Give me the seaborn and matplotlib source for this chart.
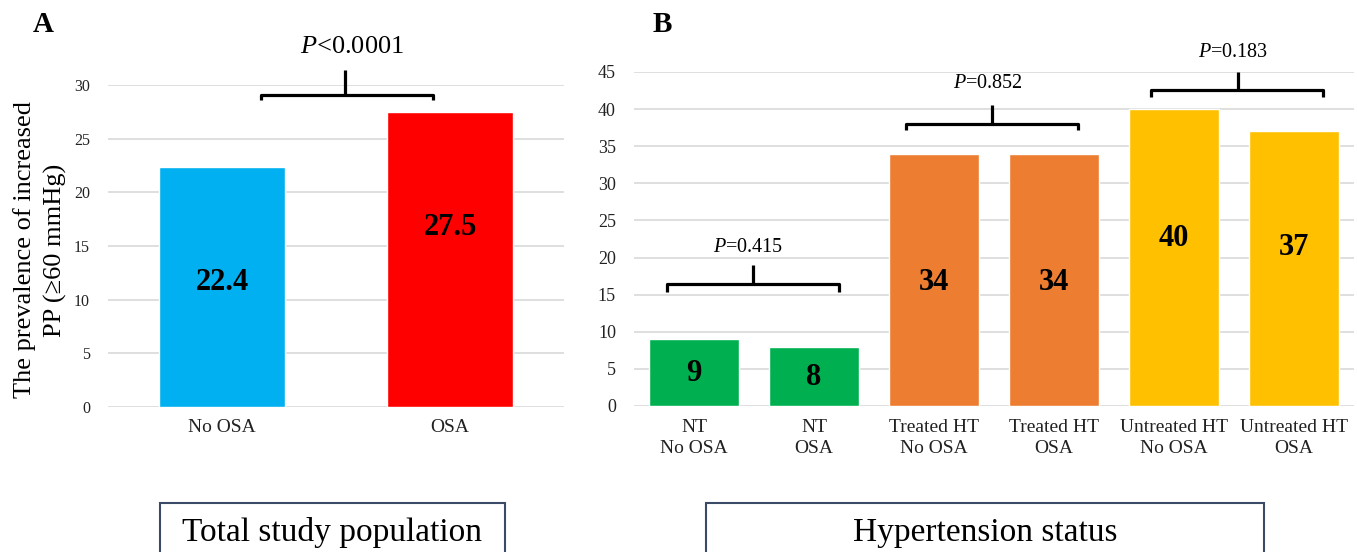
"""Prevalence of increased PP by OSA status and hypertension status."""

import matplotlib.pyplot as plt
import seaborn as sns
from matplotlib.patches import Rectangle

# Panel A: total study population
a_categories = ["No OSA", "OSA"]
a_values = [22.4, 27.5]
a_colors = ["#00B0F0", "#FF0000"]
a_label_y = [11.6, 16.7]
a_pvalue = "$P$<0.0001"

# Panel B: hypertension status
b_categories = [
    "NT\nNo OSA", "NT\nOSA",
    "Treated HT\nNo OSA", "Treated HT\nOSA",
    "Untreated HT\nNo OSA", "Untreated HT\nOSA",
]
b_values = [9, 8, 34, 34, 40, 37]
b_colors = ["#00B050", "#00B050", "#ED7D31", "#ED7D31", "#FFC000", "#FFC000"]
b_label_y = [4.4, 3.9, 16.6, 16.7, 22.6, 21.3]
b_pvalues = ["$P$=0.415", "$P$=0.852", "$P$=0.183"]

sns.set_style("white")
plt.rcParams["font.family"] = ["Liberation Serif", "DejaVu Serif"]
plt.rcParams["mathtext.fontset"] = "custom"
plt.rcParams["mathtext.rm"] = "Liberation Serif"
plt.rcParams["mathtext.it"] = "Liberation Serif:italic"
plt.rcParams["text.color"] = "black"
plt.rcParams["xtick.color"] = "#222222"
plt.rcParams["ytick.color"] = "#222222"

W, H = 1357, 552
fig = plt.figure(figsize=(W / 100, H / 100), dpi=100)


def px_axes(left, right, y0, ytop):
    return fig.add_axes([left / W, (H - y0) / H, (right - left) / W, (y0 - ytop) / H])


def style_axes(ax, n, ymax, step, ysize):
    ax.set_xlim(-0.5, n - 0.5)
    ax.set_ylim(0, ymax)
    ax.set_yticks(range(0, ymax + 1, step))
    ax.grid(axis="y", color="#D9D9D9", linewidth=1.2)
    ax.set_axisbelow(True)
    sns.despine(ax=ax, left=True, bottom=True, top=True, right=True)
    ax.tick_params(axis="y", length=0, pad=13, labelsize=ysize)
    ax.tick_params(axis="x", length=0, pad=9, labelsize=14)
    ax.set_xlabel("")
    ax.set_ylabel("")


def bracket(ax, x0, x1, xs, y, ytip, ystem, text, ytext, xtext, size):
    kw = dict(color="black", lw=2.3, clip_on=False, solid_capstyle="butt")
    ax.plot([x0, x0, x1, x1], [ytip, y, y, ytip], **kw)
    ax.plot([xs, xs], [y, ystem], **kw)
    ax.text(xtext, ytext, text, ha="center", va="center", fontsize=size)


# ---- Panel A ----
axA = px_axes(108, 564, 407, 85)
sns.barplot(x=a_categories, y=a_values, hue=a_categories, palette=a_colors,
            width=0.55, saturation=1, legend=False, ax=axA)
style_axes(axA, len(a_categories), 30, 5, 11.5)
for i, (v, ly) in enumerate(zip(a_values, a_label_y)):
    axA.text(i, ly, f"{v}", ha="center", va="center", fontsize=22, fontweight="bold")
bracket(axA, 0.17, 0.925, 0.54, 29.1, 28.6, 31.4, a_pvalue, 33.5, 0.57, 19)
fig.text(40 / W, 1 - 250 / H, "The prevalence of increased\nPP (\u226560 mmHg)",
         rotation=90, ha="center", va="center", fontsize=19, linespacing=1.45)
fig.text(43 / W, 1 - 25 / H, "A", ha="center", va="center", fontsize=21, fontweight="bold")

# ---- Panel B ----
axB = px_axes(634, 1354, 406, 72)
sns.barplot(x=b_categories, y=b_values, hue=b_categories, palette=b_colors,
            width=0.75, saturation=1, legend=False, ax=axB)
style_axes(axB, len(b_categories), 45, 5, 13)
axB.tick_params(axis="x", labelsize=14)
for lab in axB.get_xticklabels():
    lab.set_linespacing(1.35)
for i, (v, ly) in enumerate(zip(b_values, b_label_y)):
    axB.text(i, ly, f"{v}", ha="center", va="center", fontsize=22, fontweight="bold")
bracket(axB, -0.225, 1.21, 0.49, 16.4, 15.4, 19.0, b_pvalues[0], 21.4, 0.45, 14.5)
bracket(axB, 1.77, 3.2, 2.48, 38.0, 37.2, 40.6, b_pvalues[1], 43.5, 2.45, 14.5)
bracket(axB, 3.81, 5.24, 4.53, 42.6, 41.6, 45.0, b_pvalues[2], 47.6, 4.49, 14.5)
fig.text(662 / W, 1 - 25 / H, "B", ha="center", va="center", fontsize=21, fontweight="bold")

# ---- Bottom caption boxes ----
for x0, x1, label in [(160, 505, "Total study population"), (706, 1264, "Hypertension status")]:
    fig.patches.append(Rectangle((x0 / W, -0.1), (x1 - x0) / W, 0.1 + 49 / H,
                                 transform=fig.transFigure, fill=False,
                                 edgecolor="#3B4A66", linewidth=1.5))
    fig.text((x0 + x1) / 2 / W, 1 - 533 / H, label, ha="center", va="center", fontsize=24)

fig.savefig("out.png", dpi=100)
